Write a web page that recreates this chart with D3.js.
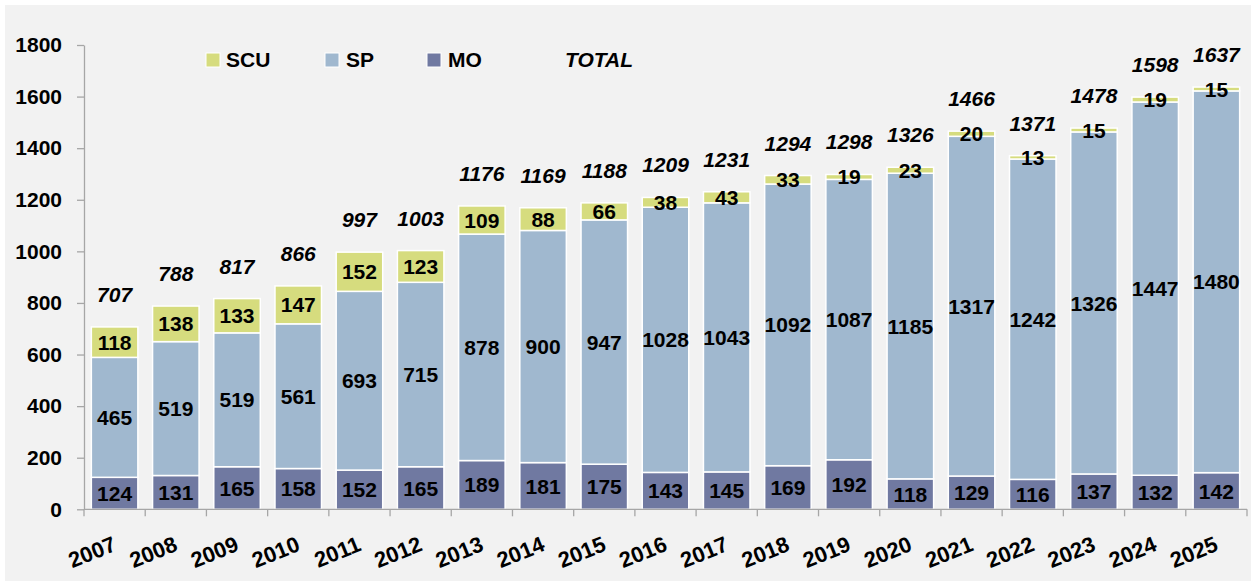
<!DOCTYPE html>
<html>
<head>
<meta charset="utf-8">
<script src="https://cdn.jsdelivr.net/npm/d3@7"></script>
<style>
  body { margin: 0; background: #fff; }
  svg text { font-family: "Liberation Sans", Arial, sans-serif; font-weight: bold; fill: #000; }
</style>
</head>
<body>
<svg id="chart" width="1251" height="583"></svg>
<script>
// data
var years = ["2007","2008","2009","2010","2011","2012","2013","2014","2015","2016",
             "2017","2018","2019","2020","2021","2022","2023","2024","2025"];
var mo  = [124,131,165,158,152,165,189,181,175,143,145,169,192,118,129,116,137,132,142];
var sp  = [465,519,519,561,693,715,878,900,947,1028,1043,1092,1087,1185,1317,1242,1326,1447,1480];
var scu = [118,138,133,147,152,123,109,88,66,38,43,33,19,23,20,13,15,19,15];
var totals = [707,788,817,866,997,1003,1176,1169,1188,1209,1231,1294,1298,1326,1466,1371,1478,1598,1637];
var yTicks = [0,200,400,600,800,1000,1200,1400,1600,1800];

var keys = ["MO","SP","SCU"];
var colors = { MO: "#7079a1", SP: "#a0b8cf", SCU: "#d6dc7e" };

var rows = years.map(function(y, i) {
  return { year: y, MO: mo[i], SP: sp[i], SCU: scu[i], total: totals[i] };
});

var svg = d3.select("#chart");

// fond gris
svg.append("rect").attr("x", 5).attr("y", 5).attr("width", 1246).attr("height", 576)
  .style("fill", "#f2f2f2");

var x = d3.scaleBand().domain(years).range([84, 1247]).paddingInner(0.24).paddingOuter(0.12);
var y = d3.scaleLinear().domain([0, 1800]).range([509.3, 45]);

var series = d3.stack().keys(keys)(rows);

// barres empilees
var layer = svg.selectAll("g.layer").data(series).enter().append("g")
  .attr("class", "layer")
  .style("fill", function(d) { return colors[d.key]; });

layer.selectAll("rect").data(function(d) { return d; }).enter().append("rect")
  .attr("x", function(d) { return x(d.data.year); })
  .attr("y", function(d) { return y(d[1]); })
  .attr("width", x.bandwidth())
  .attr("height", function(d) { return y(d[0]) - y(d[1]); })
  .style("stroke", "#fff")
  .style("stroke-width", 1.5);

// etiquettes des segments
series.forEach(function(s) {
  svg.append("g").selectAll("text").data(s).enter().append("text")
    .attr("x", function(d) { return x(d.data.year) + x.bandwidth() / 2; })
    .attr("y", function(d) { return (y(d[0]) + y(d[1])) / 2; })
    .attr("dy", "0.36em")
    .attr("text-anchor", "middle")
    .style("font-size", "21px")
    .text(function(d) { return d.data[s.key]; });
});

// totaux
svg.append("g").selectAll("text").data(rows).enter().append("text")
  .attr("x", function(d) { return x(d.year) + x.bandwidth() / 2; })
  .attr("y", function(d) { return y(d.total) - 25; })
  .attr("text-anchor", "middle")
  .style("font-size", "21px")
  .style("font-style", "italic")
  .text(function(d) { return d.total; });

// axe Y
var yAxis = svg.append("g").attr("transform", "translate(84,0)")
  .call(d3.axisLeft(y).tickValues(yTicks).tickFormat(d3.format("d"))
    .tickSize(7).tickPadding(15).tickSizeOuter(0));
yAxis.selectAll("path, line").style("stroke", "#a6a6a6").style("stroke-width", 1.3);
yAxis.selectAll("text").style("font-size", "21px").style("font-family", "Liberation Sans, Arial, sans-serif")
  .style("font-weight", "bold").attr("fill", "#000");

// axe X
var step = x.step();
var half = step * x.paddingInner() / 2;
svg.append("line")
  .attr("x1", x.range()[0]).attr("x2", x.range()[1])
  .attr("y1", y(0)).attr("y2", y(0))
  .style("stroke", "#a6a6a6").style("stroke-width", 1.3);
var bounds = years.map(function(yr) { return x(yr) - half; }).concat([x.range()[1]]);
svg.append("g").selectAll("line").data(bounds).enter().append("line")
  .attr("x1", function(d) { return d; }).attr("x2", function(d) { return d; })
  .attr("y1", y(0)).attr("y2", y(0) + 7)
  .style("stroke", "#a6a6a6").style("stroke-width", 1.3);

svg.append("g").selectAll("text").data(years).enter().append("text")
  .attr("transform", function(d) {
    return "translate(" + (x(d) + x.bandwidth() / 2 + 3) + ",550) rotate(-22)";
  })
  .attr("text-anchor", "end")
  .style("font-size", "22px")
  .text(function(d) { return d; });

// legende
var legend = [
  { key: "SCU", sx: 206, tx: 226 },
  { key: "SP",  sx: 325, tx: 346 },
  { key: "MO",  sx: 427, tx: 448 }
];
legend.forEach(function(l) {
  svg.append("rect").attr("x", l.sx).attr("y", 53).attr("width", 14).attr("height", 14)
    .style("fill", colors[l.key]).style("stroke", "#fff").style("stroke-width", 1);
  svg.append("text").attr("x", l.tx).attr("y", 67).style("font-size", "21px").text(l.key);
});
svg.append("text").attr("x", 565).attr("y", 67).style("font-size", "21px")
  .style("font-style", "italic").text("TOTAL");
</script>
</body>
</html>
